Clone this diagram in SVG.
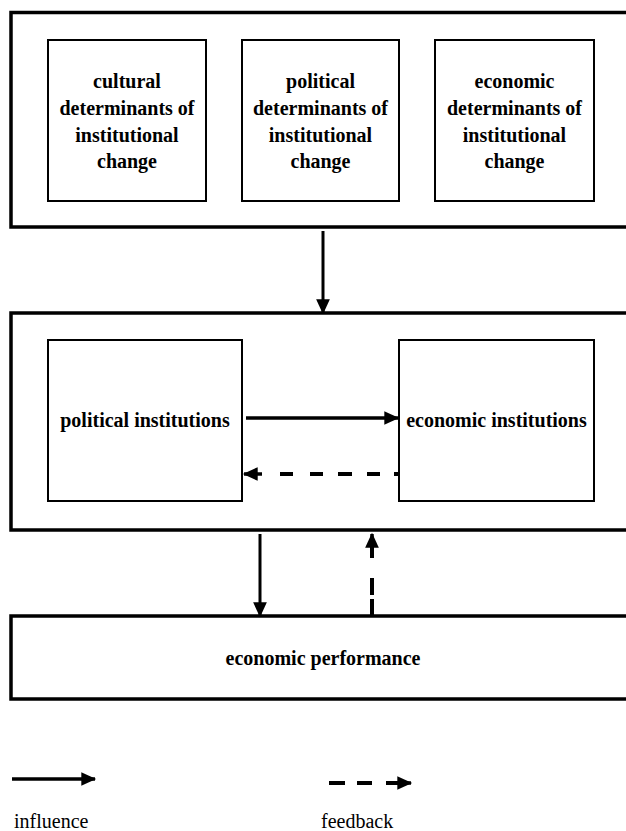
<svg xmlns="http://www.w3.org/2000/svg" width="626" height="831" viewBox="0 0 626 831">
<style>
  .outer{fill:#fff;stroke:#000;stroke-width:3.5}
  .inner{fill:#fff;stroke:#000;stroke-width:2}
  .lbl{font-family:"Liberation Serif","Times New Roman",serif;font-weight:bold;font-size:20px;text-anchor:middle;fill:#000}
  .leg{font-family:"Liberation Serif","Times New Roman",serif;font-size:20px;fill:#000}
  .ln{fill:none;stroke:#000;stroke-width:3}
  .lnh{fill:none;stroke:#000;stroke-width:3.5}
  .dash{fill:none;stroke:#000;stroke-width:4}
</style>
<defs>
  <marker id="hd" markerUnits="userSpaceOnUse" markerWidth="16" markerHeight="16" viewBox="0 0 14 14" refX="12" refY="7" orient="auto">
    <path d="M0,1 L13,7 L0,13 Z" fill="#000"/>
  </marker>
</defs>
<rect width="626" height="831" fill="#fff"/>
<g id="determinants">
  <rect class="outer" x="11" y="12.5" width="640" height="214.5"/>
  <g id="cultural">
    <rect class="inner" x="48" y="40" width="158" height="161"/>
    <text class="lbl" x="127" y="88">cultural</text>
    <text class="lbl" x="127" y="115">determinants of</text>
    <text class="lbl" x="127" y="142">institutional</text>
    <text class="lbl" x="127" y="168">change</text>
  </g>
  <g id="political-det">
    <rect class="inner" x="242" y="40" width="157" height="161"/>
    <text class="lbl" x="320.5" y="88">political</text>
    <text class="lbl" x="320.5" y="115">determinants of</text>
    <text class="lbl" x="320.5" y="142">institutional</text>
    <text class="lbl" x="320.5" y="168">change</text>
  </g>
  <g id="economic-det">
    <rect class="inner" x="435" y="40" width="159" height="161"/>
    <text class="lbl" x="514.5" y="88">economic</text>
    <text class="lbl" x="514.5" y="115">determinants of</text>
    <text class="lbl" x="514.5" y="142">institutional</text>
    <text class="lbl" x="514.5" y="168">change</text>
  </g>
</g>
<g id="institutions">
  <rect class="outer" x="11" y="313" width="640" height="217"/>
  <g id="political-inst">
    <rect class="inner" x="48" y="340" width="194" height="161"/>
    <text class="lbl" x="145" y="427">political institutions</text>
  </g>
  <g id="economic-inst">
    <rect class="inner" x="399" y="340" width="195" height="161"/>
    <text class="lbl" x="496.5" y="427">economic institutions</text>
  </g>
</g>
<g id="performance">
  <rect class="outer" x="11" y="616" width="640" height="83"/>
  <text class="lbl" x="323" y="665">economic performance</text>
</g>
<g id="connectors">
  <path class="ln" d="M323,231 V313" marker-end="url(#hd)"/>
  <path class="lnh" d="M246,418 H398" marker-end="url(#hd)"/>
  <path class="dash" d="M399,474 H394 M380,474 H367 M352,474 H338 M323,474 H310 M293,474 H280"/>
  <path class="lnh" d="M262,474 H244" marker-end="url(#hd)"/>
  <path class="ln" d="M260,534 V616" marker-end="url(#hd)"/>
  <path class="dash" d="M372,616 V599 M372,595 V578 M372,558 V546"/>
  <path class="lnh" d="M372,550 V534" marker-end="url(#hd)"/>
</g>
<g id="legend">
  <path class="lnh" d="M12,779 H95" marker-end="url(#hd)"/>
  <path class="dash" d="M329,783 H345 M357,783 H372 M386,783 H400"/>
  <path class="lnh" d="M398,783 H411" marker-end="url(#hd)"/>
  <text class="leg" x="14" y="828">influence</text>
  <text class="leg" x="321" y="828">feedback</text>
</g>
</svg>
